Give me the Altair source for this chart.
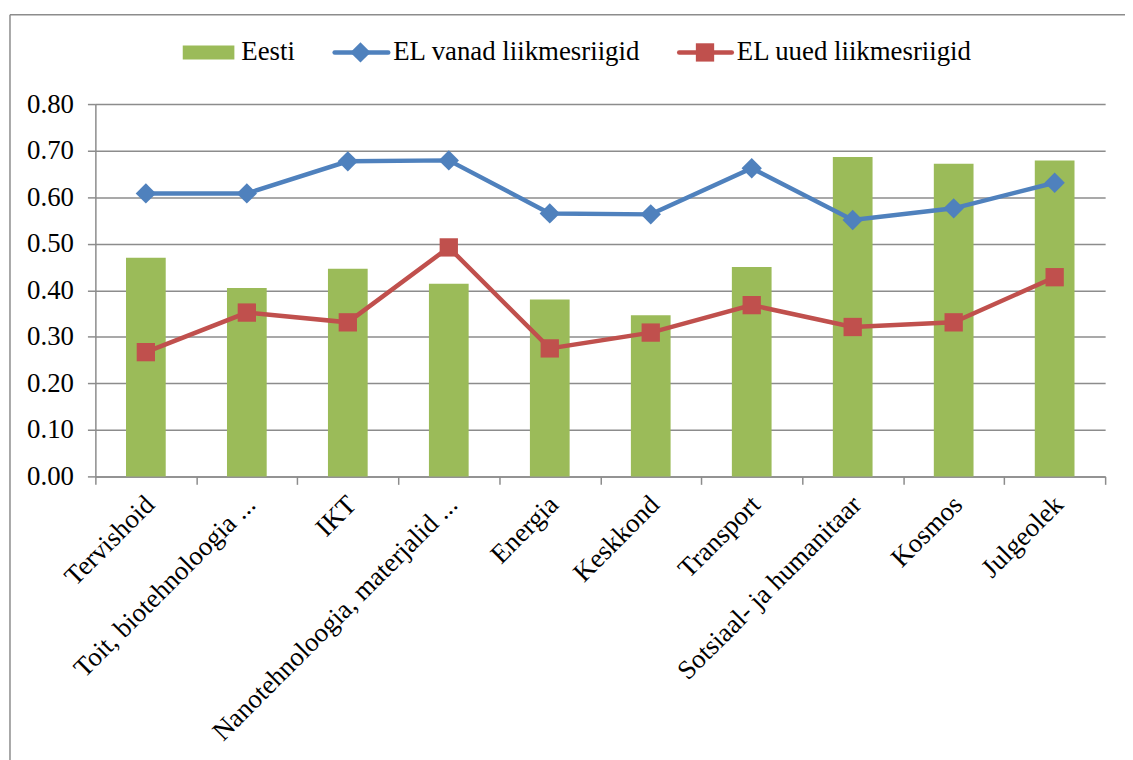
import altair as alt
import pandas as pd

categories = ["Tervishoid", "Toit, biotehnoloogia ...", "IKT", "Nanotehnoloogia, materjalid ...",
              "Energia", "Keskkond", "Transport", "Sotsiaal- ja humanitaar", "Kosmos", "Julgeolek"]
eesti = [0.47, 0.405, 0.446, 0.414, 0.38, 0.346, 0.45, 0.686, 0.672, 0.679]
el_vanad = [0.608, 0.608, 0.677, 0.679, 0.565, 0.563, 0.662, 0.551, 0.576, 0.631]
el_uued = [0.267, 0.352, 0.331, 0.492, 0.275, 0.309, 0.368, 0.321, 0.331, 0.428]
series = ["Eesti", "EL vanad liikmesriigid", "EL uued liikmesriigid"]

GREEN, BLUE, RED = "#9BBB59", "#4F81BD", "#C0504D"
GRID = "#8C8C8C"
FONT = "Liberation Serif"
FS = 27

df_bar = pd.DataFrame({"cat": categories, "v": eesti})
df_blue = pd.DataFrame({"cat": categories, "v": el_vanad})
df_red = pd.DataFrame({"cat": categories, "v": el_uued})

xenc = alt.X("cat:N", sort=categories, title=None,
             scale=alt.Scale(paddingInner=0, paddingOuter=0),
             axis=alt.Axis(labelAngle=-45, labelAlign="right", labelBaseline="middle",
                           labelFont=FONT, labelFontSize=FS, labelColor="#000000",
                           labelPadding=16, labelOffset=4, labelLimit=600, labelOverlap=False,
                           labelBound=False,
                           tickBand="extent", tickSize=8, tickColor=GRID, tickWidth=1.5,
                           domainColor=GRID, domainWidth=1.5, grid=False))
yscale = alt.Scale(domain=[0, 0.8])
yaxis = alt.Axis(values=[0, 0.1, 0.2, 0.3, 0.4, 0.5, 0.6, 0.7, 0.8], format=".2f",
                 labelFont=FONT, labelFontSize=FS, labelColor="#000000", labelPadding=14,
                 tickSize=8, tickColor=GRID, tickWidth=1.5, domainColor=GRID, domainWidth=1.5,
                 grid=True, gridColor=GRID, gridWidth=1.5)

bars = alt.Chart(df_bar).mark_bar(color=GREEN, size=40).encode(
    x=xenc, y=alt.Y("v:Q", scale=yscale, axis=yaxis, title=None))

blue = alt.Chart(df_blue).mark_line(
    color=BLUE, strokeWidth=4.5,
    point=alt.OverlayMarkDef(shape="diamond", size=420, filled=True, color=BLUE, opacity=1)
).encode(x=alt.X("cat:N", sort=categories), y=alt.Y("v:Q", scale=yscale))

red = alt.Chart(df_red).mark_line(
    color=RED, strokeWidth=4.5,
    point=alt.OverlayMarkDef(shape="square", size=340, filled=True, color=RED, opacity=1)
).encode(x=alt.X("cat:N", sort=categories), y=alt.Y("v:Q", scale=yscale))

one = pd.DataFrame({"a": [0]})
LY = -52
leg_sw = alt.Chart(one).mark_rect(color=GREEN).encode(
    x=alt.value(88), x2=alt.value(140), y=alt.value(LY - 7), y2=alt.value(LY + 7))
leg_bl = alt.Chart(one).mark_rule(color=BLUE, strokeWidth=4.5, strokeCap="round").encode(
    x=alt.value(241), x2=alt.value(295), y=alt.value(LY))
leg_bp = alt.Chart(one).mark_point(shape="diamond", size=420, filled=True, color=BLUE, opacity=1).encode(
    x=alt.value(267), y=alt.value(LY))
leg_rl = alt.Chart(one).mark_rule(color=RED, strokeWidth=4.5, strokeCap="round").encode(
    x=alt.value(588), x2=alt.value(641), y=alt.value(LY))
leg_rp = alt.Chart(one).mark_point(shape="square", size=340, filled=True, color=RED, opacity=1).encode(
    x=alt.value(614), y=alt.value(LY))

def leg_text(label, x):
    return alt.Chart(one).mark_text(text=label, font=FONT, fontSize=FS, align="left",
                                    baseline="middle", color="#000000").encode(
        x=alt.value(x), y=alt.value(LY))

t1 = leg_text(series[0], 147)
t2 = leg_text(series[1], 300)
t3 = leg_text(series[2], 646)

border_v = alt.Chart(one).mark_rule(color=GRID, strokeWidth=1.5).encode(
    x=alt.value(-86), y=alt.value(-90), y2=alt.value(800))
border_h = alt.Chart(one).mark_rule(color=GRID, strokeWidth=1.5).encode(
    x=alt.value(-86), x2=alt.value(1300), y=alt.value(-90))

chart = alt.layer(bars, blue, red, leg_sw, leg_bl, leg_bp, leg_rl, leg_rp, t1, t2, t3,
                  border_v, border_h).properties(
    width=1017, height=375,
    padding={"left": 88, "top": 94, "right": 20, "bottom": 300},
    autosize=alt.AutoSizeParams(type="none"),
).configure(font=FONT, background="white").configure_view(stroke=None).configure_text(font=FONT)

chart.save("out.html", embed_options={"renderer": "svg", "actions": False})
